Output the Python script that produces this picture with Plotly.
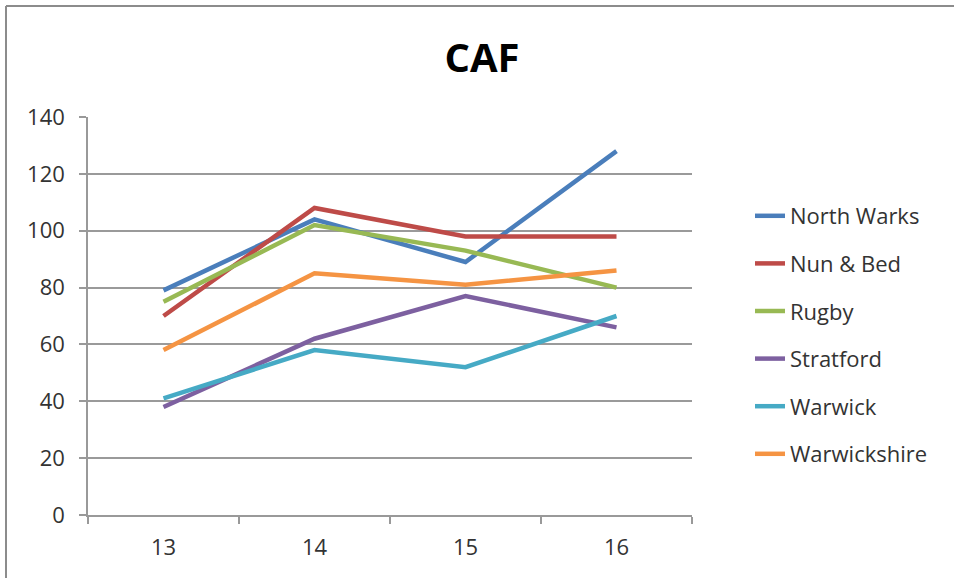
import plotly.graph_objects as go

years = ["13", "14", "15", "16"]
north_warks = [79, 104, 89, 128]
nun_bed = [70, 108, 98, 98]
rugby = [75, 102, 93, 80]
stratford = [38, 62, 77, 66]
warwick = [41, 58, 52, 70]
warwickshire = [58, 85, 81, 86]

series_names = ["North Warks", "Nun & Bed", "Rugby", "Stratford", "Warwick", "Warwickshire"]
series_values = [north_warks, nun_bed, rugby, stratford, warwick, warwickshire]
colors = ["#4A7EBB", "#BE4B48", "#98B954", "#7D60A0", "#46AAC5", "#F59443"]

fig = go.Figure()
for name, vals, col in zip(series_names, series_values, colors):
    fig.add_trace(go.Scatter(
        x=years, y=vals, name=name, mode="lines",
        line=dict(color=col, width=4.5),
        legendgroup=name,
    ))

W, H = 954, 578
L, R, T, B = 88, 692, 117, 515
pw, ph = R - L, B - T

def px_x(px):
    return (px - L) / pw

def px_y(py):
    return (B - py) / ph

# outer chart border (top and left visible)
fig.add_shape(type="line", xref="paper", yref="paper",
              x0=px_x(6), x1=px_x(970), y0=px_y(6), y1=px_y(6),
              line=dict(color="#8C8C8C", width=2))
fig.add_shape(type="line", xref="paper", yref="paper",
              x0=px_x(6), x1=px_x(6), y0=px_y(6), y1=px_y(600),
              line=dict(color="#8C8C8C", width=2))

fig.update_layout(
    width=W, height=H,
    margin=dict(l=L, r=W - R, t=T, b=H - B),
    paper_bgcolor="white", plot_bgcolor="white",
    font=dict(family="Open Sans", color="#333333"),
    title=dict(text="<b>CAF</b>", x=482 / W, xanchor="center",
               y=1 - 58 / H, yanchor="middle",
               font=dict(size=40, color="black", family="Open Sans")),
    showlegend=True,
    legend=dict(x=px_x(750), xanchor="left", y=px_y(195), yanchor="top",
                font=dict(size=22, color="#333333"),
                tracegroupgap=16, bgcolor="rgba(0,0,0,0)"),
    xaxis=dict(type="category", range=[-0.5, 3.5], tickson="boundaries",
               ticks="outside", ticklen=7, tickcolor="#999999", tickwidth=1.5,
               ticklabelstandoff=12,
               showline=True, linecolor="#999999", linewidth=1.5,
               showgrid=False, tickfont=dict(size=22, color="#333333")),
    yaxis=dict(range=[0, 140], dtick=20, ticks="outside", ticklen=7,
               tickcolor="#999999", tickwidth=1.5, ticklabelstandoff=10,
               showline=True, linecolor="#999999", linewidth=1.5,
               showgrid=True, gridcolor="#9A9A9A", gridwidth=1.5,
               zeroline=False, tickfont=dict(size=22, color="#333333")),
)

fig.write_html("out.html", config={"displayModeBar": False},
               post_script="document.body.style.margin='0';document.body.style.padding='0';")
